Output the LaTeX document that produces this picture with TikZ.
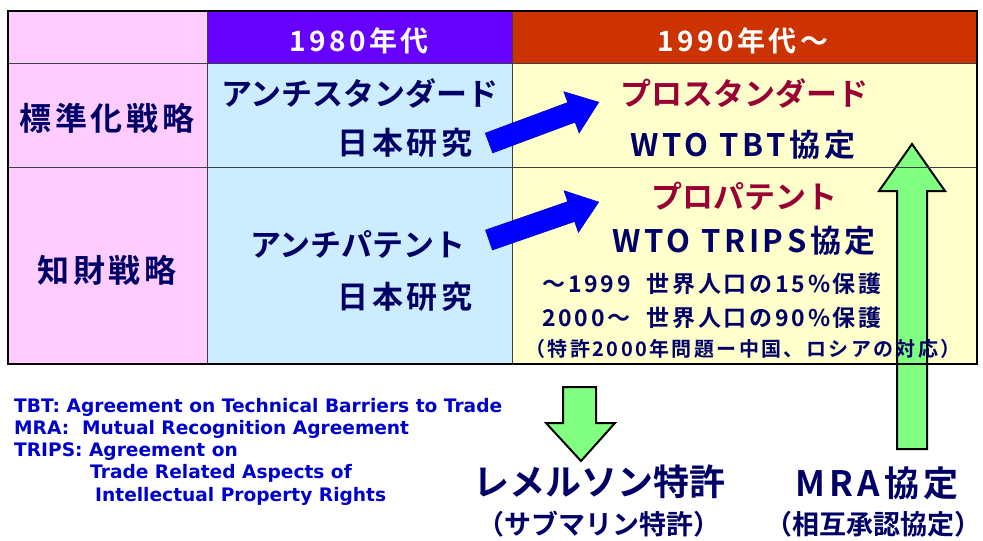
\documentclass[tikz,border=0pt]{standalone}
\usepackage{fontspec}
\usepackage{xcolor}
\newfontfamily\jpfont{Noto Sans CJK JP Bold}
\newfontfamily\jpwidefont[LetterSpace=12]{Noto Sans CJK JP Bold}
\newfontfamily\legendfont{DejaVu Sans Bold}
\definecolor{cellpink}{RGB}{255, 204, 255}
\definecolor{headviolet}{RGB}{102, 0, 255}
\definecolor{headred}{RGB}{204, 51, 0}
\definecolor{cellblue}{RGB}{204, 236, 255}
\definecolor{cellyellow}{RGB}{255, 255, 204}
\definecolor{navytext}{RGB}{0, 0, 102}
\definecolor{redtext}{RGB}{153, 0, 51}
\definecolor{arrowblue}{RGB}{0, 0, 255}
\definecolor{arrowgreen}{RGB}{128, 255, 128}
\definecolor{legendblue}{RGB}{0, 0, 204}
\tikzset{
	txt/.style={inner sep=0pt},
	headtext/.style={txt, text=white, font=\jpwidefont\fontsize{28}{28}\selectfont},
	rowtext/.style={txt, text=navytext, font=\jpwidefont\fontsize{32}{32}\selectfont},
	katatext/.style={txt, text=navytext, font=\jpfont\fontsize{31}{31}\selectfont},
	celltext/.style={txt, text=navytext, font=\jpwidefont\fontsize{31}{31}\selectfont},
	protext/.style={katatext, text=redtext},
	smalltext/.style={txt, text=navytext, font=\jpwidefont\fontsize{23}{23}\selectfont},
	notetext/.style={txt, text=navytext, font=\jpwidefont\fontsize{20}{20}\selectfont},
	bigtext/.style={txt, text=navytext, font=\jpfont\fontsize{36}{36}\selectfont},
	mratext/.style={txt, text=navytext, font=\jpwidefont\fontsize{35}{35}\selectfont},
	subtext/.style={txt, text=navytext, font=\jpfont\fontsize{27}{27}\selectfont},
	legend/.style={txt, anchor=base west, text=legendblue, font=\legendfont\fontsize{18.6}{22}\selectfont},
	bluearrow/.style={fill=arrowblue, draw=arrowblue!80!black, line width=0.6pt},
	greenarrow/.style={fill=arrowgreen, draw=black, line width=2pt, line join=miter},
}
\begin{document}
\begin{tikzpicture}[x=1pt,y=-1pt]
		\useasboundingbox (0,0) rectangle (983,541);
		% cell fills
		\fill[cellpink] (8,11) rectangle (207,364);
		\fill[headviolet] (207,11) rectangle (512,63);
		\fill[headred] (512,11) rectangle (977,63);
		\fill[cellblue] (207,63) rectangle (512,364);
		\fill[cellyellow] (512,63) rectangle (977,364);
		
		% green arrows (under the grid lines)
		\draw[greenarrow] (897,449) -- (897,191) -- (879,191) -- (912,144) -- (945,191) -- (927,191) -- (927,449) -- cycle;
		\draw[greenarrow] (563,387) -- (596,387) -- (596,423) -- (615,423) -- (581,461) -- (546,423) -- (563,423) -- cycle;
		
		% grid
		\draw[line width=1pt, black!75] (8,63) -- (977,63) (8,167) -- (977,167);
		\draw[line width=1pt, black!75] (207,11) -- (207,364) (512,11) -- (512,364);
		\draw[line width=2pt] (8,11) rectangle (977,364);
		
		% blue arrows
		\begin{scope}[shift={(489,143)}, rotate=20.4]
			\draw[bluearrow] (0,-10.5) -- (88,-10.5) -- (88,-22) -- (117,0) -- (88,22) -- (88,10.5) -- (0,10.5) -- cycle;
		\end{scope}
		\begin{scope}[shift={(489,240)}, rotate=19.1]
			\draw[bluearrow] (0,-10.5) -- (87,-10.5) -- (87,-22) -- (116,0) -- (87,22) -- (87,10.5) -- (0,10.5) -- cycle;
		\end{scope}
		
		% header row
		\node[headtext] (h80) at (359,41) {1980年代};
		\node[headtext] (h90) at (743,41) {1990年代～};
		
		% row labels
		\node[rowtext] (std) at (107,118) {標準化戦略};
		\node[rowtext] (ip) at (107,270) {知財戦略};
		
		% 1980s
		\node[katatext] (antistd) at (360,93) {アンチスタンダード};
		\node[celltext] (jp1) at (405,143) {日本研究};
		\node[katatext] (antipat) at (358,244) {アンチパテント};
		\node[celltext] (jp2) at (405,297) {日本研究};
		
		% 1990s
		\node[protext] (prostd) at (744,93) {プロスタンダード};
		\node[celltext] (tbt) at (743,145) {WTO TBT協定};
		\node[protext] (propat) at (744,196) {プロパテント};
		\node[celltext] (trips) at (744,241) {WTO TRIPS協定};
		\node[smalltext] (p15) at (712,284) {～1999\ \ 世界人口の15\%保護};
		\node[smalltext] (p90) at (712,318) {2000～\ \ 世界人口の90\%保護};
		\node[notetext] (y2k) at (743,349) {（特許2000年問題ー中国、ロシアの対応）};
		
		% legend
		\node[legend] (lg1) at (14,412) {TBT: Agreement on Technical Barriers to Trade};
		\node[legend] (lg2) at (14,434) {MRA:\ \ Mutual Recognition Agreement};
		\node[legend] (lg3) at (14,456) {TRIPS: Agreement on};
		\node[legend] (lg4) at (90,478) {Trade Related Aspects of};
		\node[legend] (lg5) at (95,501) {Intellectual Property Rights};
		
		% results
		\node[bigtext] (lemel) at (599,482) {レメルソン特許};
		\node[subtext] (sub) at (599,524) {（サブマリン特許）};
		\node[mratext] (mra) at (877,483) {MRA協定};
		\node[subtext] (mutual) at (873,524) {（相互承認協定）};
	\end{tikzpicture}
\end{document}
